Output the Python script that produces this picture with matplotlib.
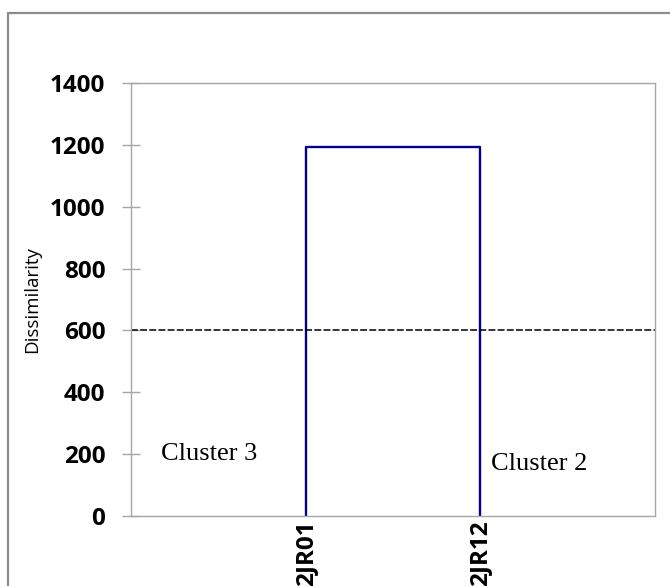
import matplotlib.pyplot as plt
from matplotlib.patches import Rectangle

# Dendrogram data
leaves = ['2JR01', '2JR12']
leaf_pos = [1, 2]
merge_height = 1192
cut_level = 600
yticks = [0, 200, 400, 600, 800, 1000, 1200, 1400]
cluster_names = ['Cluster 3', 'Cluster 2']
cluster_x = [0.17, 2.06]
cluster_y = [200, 168]

fig = plt.figure(figsize=(6.7, 5.86), dpi=100)
ax = fig.add_axes([131 / 670, 70 / 586, 524 / 670, 433 / 586])

# outer chart frame
fig.patches.append(Rectangle((8 / 670, -0.1), 1.2, (586 - 13) / 586 + 0.1,
                             transform=fig.transFigure, fill=False,
                             edgecolor='#8c8c8c', linewidth=1.6))

ax.plot([leaf_pos[0], leaf_pos[0], leaf_pos[1], leaf_pos[1]],
        [0, merge_height, merge_height, 0], color='#00008b', linewidth=1.7)
ax.axhline(cut_level, color='black', linestyle=(0, (4.5, 1.5)), linewidth=1.1)

for name, x, y in zip(cluster_names, cluster_x, cluster_y):
    ax.text(x, y, name, family='Liberation Serif', fontsize=19, va='center')

ax.set_xlim(0, 3)
ax.set_ylim(0, 1400)
ax.set_yticks(yticks)
ax.set_yticklabels([str(v) for v in yticks], family='Open Sans',
                   fontweight='bold', fontsize=17.5)
ax.set_xticks(leaf_pos)
ax.set_xticklabels(leaves, rotation=90, family='Open Sans',
                   fontweight='bold', fontsize=17.5, va='top')
ax.tick_params(axis='y', direction='inout', length=13, width=1,
               color='#a6a6a6', pad=12)
ax.tick_params(axis='x', length=0, pad=3)
for s in ax.spines.values():
    s.set_color('#a6a6a6')
    s.set_linewidth(1)

ax.set_ylabel('Dissimilarity', family='Open Sans', fontsize=13.5, labelpad=6)

fig.savefig('out.png', dpi=100)
